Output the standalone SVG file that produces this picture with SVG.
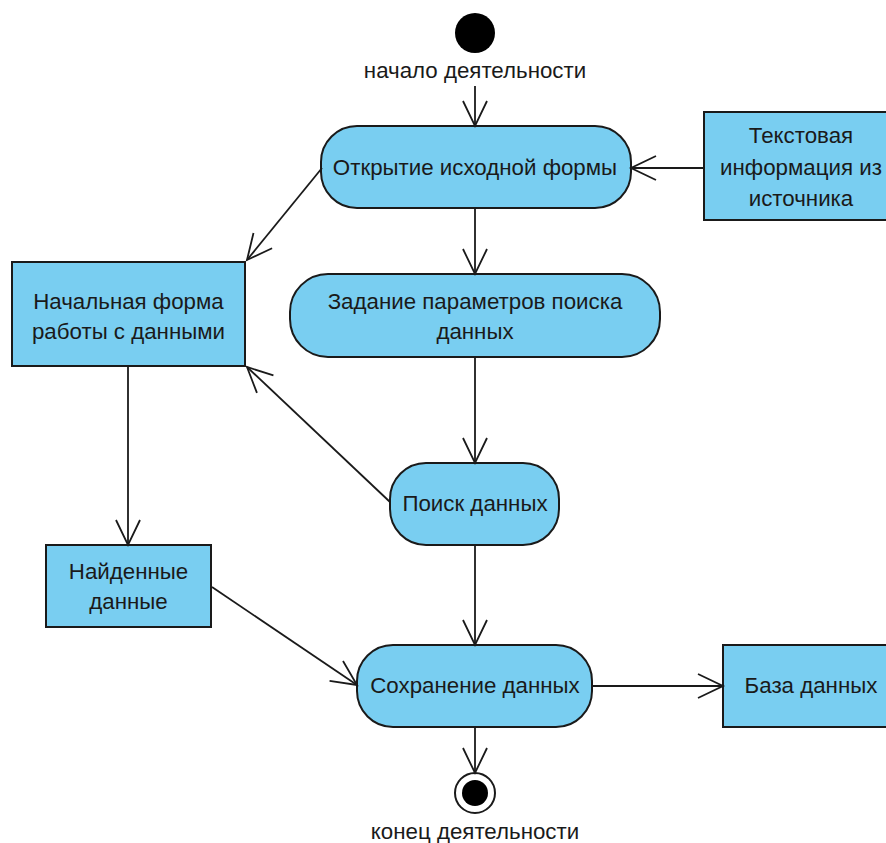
<svg xmlns="http://www.w3.org/2000/svg" width="886" height="843" viewBox="0 0 886 843">
<style>
.n{fill:#79CEF1;stroke:#1a1a1a;stroke-width:2}
.t{font-family:"Liberation Sans",Arial,sans-serif;font-size:22.3px;fill:#1a1a1a;text-anchor:middle}
.c{fill:none;stroke:#1a1a1a;stroke-width:1.8}
</style>
<defs>
<marker id="a" markerUnits="userSpaceOnUse" markerWidth="40" markerHeight="40" viewBox="-30 -20 40 40" refX="0" refY="0" orient="auto">
<path d="M-25,-12 L0,0 L-25,12" fill="none" stroke="#1a1a1a" stroke-width="1.8"/>
</marker>
</defs>
<g id="start">
<circle cx="475" cy="33" r="20" fill="#000"/>
<text class="t" x="475" y="78">начало деятельности</text>
</g>
<g id="open">
<rect class="n" x="321" y="126" width="310" height="82" rx="36"/>
<text class="t" x="475" y="175">Открытие исходной формы</text>
</g>
<g id="textinfo">
<rect class="n" x="704" y="112" width="195" height="108"/>
<text class="t" x="801" y="143">Текстовая</text>
<text class="t" x="801" y="175">информация из</text>
<text class="t" x="801" y="206">источника</text>
</g>
<g id="initform">
<rect class="n" x="12" y="262" width="233" height="104"/>
<text class="t" x="128.5" y="309">Начальная форма</text>
<text class="t" x="128.5" y="339">работы с данными</text>
</g>
<g id="params">
<rect class="n" x="290" y="274" width="370" height="83" rx="38"/>
<text class="t" x="475" y="309">Задание параметров поиска</text>
<text class="t" x="475" y="339">данных</text>
</g>
<g id="search">
<rect class="n" x="390" y="463" width="169" height="82" rx="36"/>
<text class="t" x="475" y="511">Поиск данных</text>
</g>
<g id="found">
<rect class="n" x="46" y="545" width="165" height="82"/>
<text class="t" x="128.5" y="579">Найденные</text>
<text class="t" x="128.5" y="609">данные</text>
</g>
<g id="save">
<rect class="n" x="357" y="645" width="235" height="82" rx="36"/>
<text class="t" x="475" y="693">Сохранение данных</text>
</g>
<g id="db">
<rect class="n" x="723" y="645" width="176" height="82"/>
<text class="t" x="811" y="693">База данных</text>
</g>
<g id="end">
<circle cx="475" cy="793" r="20" fill="#fff" stroke="#1a1a1a" stroke-width="2"/>
<circle cx="475" cy="793" r="13" fill="#000"/>
<text class="t" x="475" y="839">конец деятельности</text>
</g>
<g id="connectors">
<line class="c" x1="475" y1="86" x2="475" y2="126" marker-end="url(#a)"/>
<line class="c" x1="704" y1="168" x2="631" y2="168" marker-end="url(#a)"/>
<line class="c" x1="322" y1="168" x2="247" y2="260" marker-end="url(#a)"/>
<line class="c" x1="475" y1="208" x2="475" y2="274" marker-end="url(#a)"/>
<line class="c" x1="475" y1="357" x2="475" y2="463" marker-end="url(#a)"/>
<line class="c" x1="390" y1="502" x2="247" y2="367" marker-end="url(#a)"/>
<line class="c" x1="128" y1="366" x2="128" y2="545" marker-end="url(#a)"/>
<line class="c" x1="212" y1="587" x2="357" y2="685" marker-end="url(#a)"/>
<line class="c" x1="475" y1="545" x2="475" y2="645" marker-end="url(#a)"/>
<line class="c" x1="592" y1="686" x2="723" y2="686" marker-end="url(#a)"/>
<line class="c" x1="475" y1="727" x2="475" y2="773" marker-end="url(#a)"/>
</g>
</svg>
